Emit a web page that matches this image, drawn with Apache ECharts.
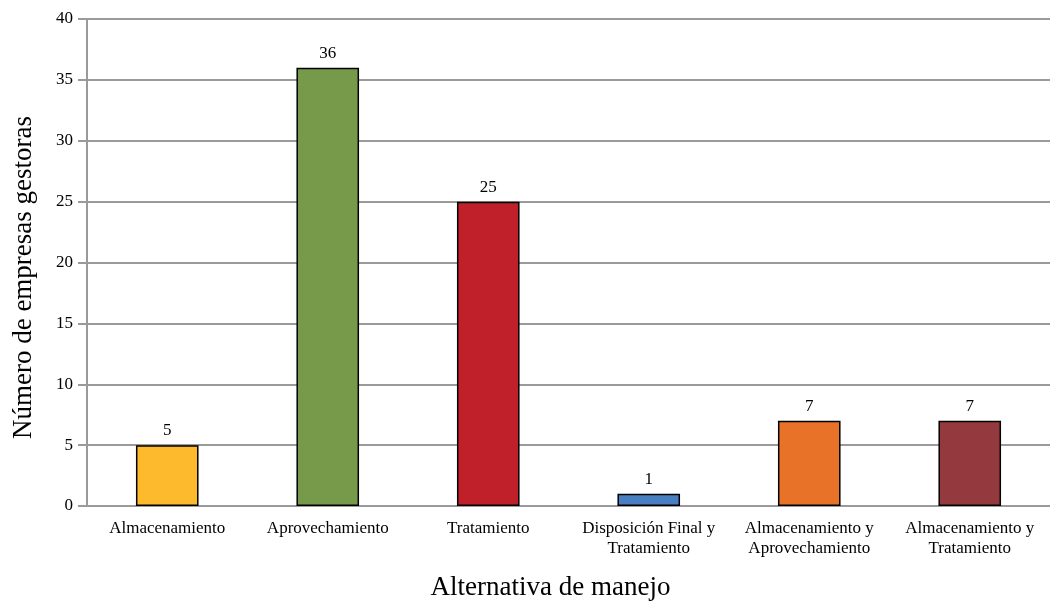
<!DOCTYPE html>
<html>
<head>
<meta charset="utf-8">
<script src="https://cdn.jsdelivr.net/npm/echarts@6/dist/echarts.min.js"></script>
<style>
  html, body { margin: 0; padding: 0; background: #fff; }
  #chart { width: 1050px; height: 606px; }
</style>
</head>
<body>
<div id="chart"></div>
<script>
const categories = [
  'Almacenamiento',
  'Aprovechamiento',
  'Tratamiento',
  'Disposición Final y\nTratamiento',
  'Almacenamiento y\nAprovechamiento',
  'Almacenamiento y\nTratamiento'
]
const empresas = [5, 36, 25, 1, 7, 7]
const barColors = ['#FDBA2C', '#77994A', '#C0202A', '#4A7EC2', '#E87228', '#943A3E']

const font = 'Liberation Serif'
const grey = '#9a9a9a'

const chart = echarts.init(document.getElementById('chart'))

chart.setOption({
  animation: false,
  textStyle: { fontFamily: font },
  grid: { left: 87, right: -3, top: 19, bottom: 99 },
  xAxis: {
    type: 'category',
    data: categories,
    name: 'Alternativa de manejo',
    nameLocation: 'middle',
    nameGap: 68,
    nameTextStyle: { fontFamily: font, fontSize: 27, color: '#000', padding: [0, 36, 0, 0] },
    axisLine: { lineStyle: { color: grey, width: 2 } },
    axisTick: { length: 8, lineStyle: { color: grey, width: 2 } },
    axisLabel: { fontFamily: font, fontSize: 17, color: '#000', margin: 13, lineHeight: 20, interval: 0 }
  },
  yAxis: {
    type: 'value',
    min: 0,
    max: 40,
    interval: 5,
    name: 'Número de empresas gestoras',
    nameLocation: 'middle',
    nameGap: 50,
    nameTextStyle: { fontFamily: font, fontSize: 27, color: '#000', padding: [0, 30, 0, 0] },
    axisLine: { show: true, lineStyle: { color: grey, width: 2 } },
    axisTick: { show: true, length: 9, lineStyle: { color: grey, width: 2 } },
    axisLabel: { fontFamily: font, fontSize: 17, color: '#000', margin: 14 },
    splitLine: { lineStyle: { color: grey, width: 2 } }
  },
  series: [{
    type: 'bar',
    barWidth: '39%',
    data: empresas.map((v, i) => ({ value: v, itemStyle: { color: barColors[i] } })),
    itemStyle: { borderColor: '#000', borderWidth: 1.5 },
    label: { show: true, position: 'top', distance: 6, fontFamily: font, fontSize: 17, color: '#000' }
  }]
})
</script>
</body>
</html>
